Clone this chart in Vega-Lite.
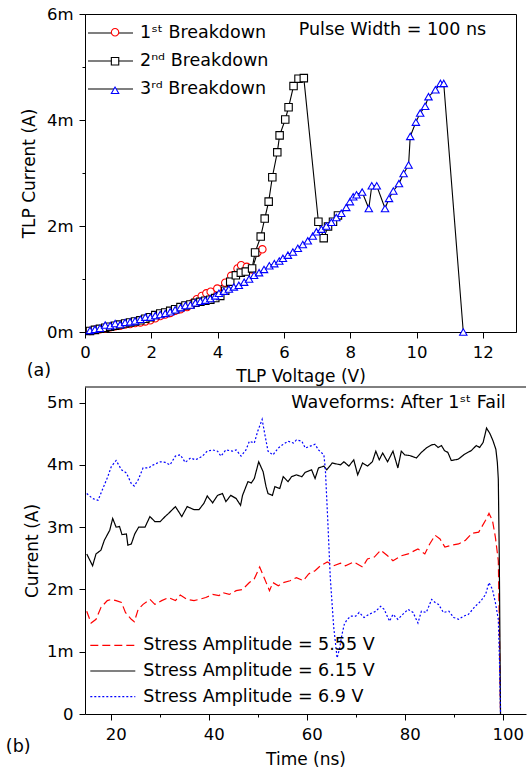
{
 "$schema": "https://vega.github.io/schema/vega-lite/v6.json",
 "background": "white",
 "padding": {"left": 5, "top": 5, "right": 0, "bottom": 0},
 "bounds": "flush",
 "spacing": 55,
 "resolve": {"scale": {"color": "independent", "stroke": "independent", "shape": "independent", "strokeDash": "independent"}, "legend": {"color": "independent", "stroke": "independent", "shape": "independent", "strokeDash": "independent"}},
 "config": {
  "font": "DejaVu Sans",
  "view": {"stroke": "black", "strokeWidth": 1},
  "axis": {"grid": false, "domainColor": "black", "tickColor": "black", "labelColor": "black", "titleColor": "black", "labelFont": "DejaVu Sans", "titleFont": "DejaVu Sans", "labelFontSize": 16.5, "titleFontSize": 17, "titleFontWeight": "normal", "labelPadding": 6, "domainWidth": 1, "tickWidth": 1, "labelFlush": false, "labelOverlap": false},
  "legend": {"labelFont": "DejaVu Sans", "labelFontSize": 17.5, "labelColor": "black", "padding": 0, "labelLimit": 400}
 },
 "datasets": {
  "a": [
   {"V":0.15,"I":0.02,"s":"1"},{"V":0.30,"I":0.04,"s":"1"},{"V":0.45,"I":0.05,"s":"1"},{"V":0.61,"I":0.07,"s":"1"},{"V":0.76,"I":0.09,"s":"1"},{"V":0.91,"I":0.11,"s":"1"},{"V":1.06,"I":0.12,"s":"1"},{"V":1.21,"I":0.14,"s":"1"},{"V":1.36,"I":0.15,"s":"1"},{"V":1.51,"I":0.17,"s":"1"},{"V":1.67,"I":0.18,"s":"1"},{"V":1.82,"I":0.20,"s":"1"},{"V":1.97,"I":0.22,"s":"1"},{"V":2.12,"I":0.26,"s":"1"},{"V":2.27,"I":0.30,"s":"1"},{"V":2.42,"I":0.33,"s":"1"},{"V":2.57,"I":0.36,"s":"1"},{"V":2.72,"I":0.40,"s":"1"},{"V":2.88,"I":0.43,"s":"1"},{"V":3.08,"I":0.47,"s":"1"},{"V":3.23,"I":0.54,"s":"1"},{"V":3.37,"I":0.62,"s":"1"},{"V":3.52,"I":0.68,"s":"1"},{"V":3.66,"I":0.73,"s":"1"},{"V":3.79,"I":0.76,"s":"1"},{"V":3.99,"I":0.82,"s":"1"},{"V":4.23,"I":0.93,"s":"1"},{"V":4.41,"I":1.06,"s":"1"},{"V":4.60,"I":1.20,"s":"1"},{"V":4.71,"I":1.26,"s":"1"},{"V":4.88,"I":1.23,"s":"1"},{"V":5.04,"I":1.18,"s":"1"},{"V":5.20,"I":1.50,"s":"1"},{"V":5.35,"I":1.56,"s":"1"},
   {"V":0.15,"I":0.02,"s":"2"},{"V":0.30,"I":0.04,"s":"2"},{"V":0.45,"I":0.06,"s":"2"},{"V":0.61,"I":0.08,"s":"2"},{"V":0.76,"I":0.10,"s":"2"},{"V":0.91,"I":0.12,"s":"2"},{"V":1.06,"I":0.14,"s":"2"},{"V":1.21,"I":0.16,"s":"2"},{"V":1.36,"I":0.18,"s":"2"},{"V":1.51,"I":0.20,"s":"2"},{"V":1.67,"I":0.22,"s":"2"},{"V":1.82,"I":0.25,"s":"2"},{"V":1.97,"I":0.28,"s":"2"},{"V":2.12,"I":0.32,"s":"2"},{"V":2.27,"I":0.35,"s":"2"},{"V":2.42,"I":0.37,"s":"2"},{"V":2.57,"I":0.40,"s":"2"},{"V":2.72,"I":0.43,"s":"2"},{"V":2.88,"I":0.47,"s":"2"},{"V":3.03,"I":0.50,"s":"2"},{"V":3.18,"I":0.52,"s":"2"},{"V":3.33,"I":0.55,"s":"2"},{"V":3.48,"I":0.57,"s":"2"},{"V":3.63,"I":0.59,"s":"2"},{"V":3.78,"I":0.61,"s":"2"},{"V":3.93,"I":0.64,"s":"2"},{"V":4.08,"I":0.68,"s":"2"},{"V":4.23,"I":0.78,"s":"2"},{"V":4.38,"I":0.95,"s":"2"},{"V":4.55,"I":1.07,"s":"2"},{"V":4.70,"I":1.12,"s":"2"},{"V":4.85,"I":1.14,"s":"2"},{"V":5.04,"I":1.20,"s":"2"},{"V":5.13,"I":1.50,"s":"2"},{"V":5.30,"I":1.80,"s":"2"},{"V":5.42,"I":2.14,"s":"2"},{"V":5.54,"I":2.46,"s":"2"},{"V":5.65,"I":2.92,"s":"2"},{"V":5.80,"I":3.39,"s":"2"},{"V":5.87,"I":3.71,"s":"2"},{"V":6.04,"I":4.01,"s":"2"},{"V":6.14,"I":4.24,"s":"2"},{"V":6.29,"I":4.64,"s":"2"},{"V":6.44,"I":4.78,"s":"2"},{"V":6.60,"I":4.79,"s":"2"},{"V":7.04,"I":2.08,"s":"2"},{"V":7.20,"I":1.77,"s":"2"},{"V":7.33,"I":1.99,"s":"2"},{"V":7.48,"I":2.08,"s":"2"},{"V":7.63,"I":2.20,"s":"2"},
   {"V":0.15,"I":0.03,"s":"3"},{"V":0.30,"I":0.05,"s":"3"},{"V":0.45,"I":0.07,"s":"3"},{"V":0.61,"I":0.13,"s":"3"},{"V":0.76,"I":0.12,"s":"3"},{"V":0.91,"I":0.16,"s":"3"},{"V":1.06,"I":0.14,"s":"3"},{"V":1.21,"I":0.18,"s":"3"},{"V":1.36,"I":0.19,"s":"3"},{"V":1.51,"I":0.21,"s":"3"},{"V":1.67,"I":0.24,"s":"3"},{"V":1.82,"I":0.28,"s":"3"},{"V":1.97,"I":0.28,"s":"3"},{"V":2.12,"I":0.31,"s":"3"},{"V":2.27,"I":0.33,"s":"3"},{"V":2.42,"I":0.35,"s":"3"},{"V":2.57,"I":0.38,"s":"3"},{"V":2.72,"I":0.42,"s":"3"},{"V":2.88,"I":0.46,"s":"3"},{"V":3.03,"I":0.50,"s":"3"},{"V":3.18,"I":0.51,"s":"3"},{"V":3.33,"I":0.55,"s":"3"},{"V":3.48,"I":0.58,"s":"3"},{"V":3.63,"I":0.60,"s":"3"},{"V":3.78,"I":0.63,"s":"3"},{"V":3.93,"I":0.68,"s":"3"},{"V":4.04,"I":0.73,"s":"3"},{"V":4.19,"I":0.77,"s":"3"},{"V":4.34,"I":0.81,"s":"3"},{"V":4.49,"I":0.85,"s":"3"},{"V":4.64,"I":0.88,"s":"3"},{"V":4.80,"I":0.94,"s":"3"},{"V":4.95,"I":1.00,"s":"3"},{"V":5.10,"I":1.07,"s":"3"},{"V":5.25,"I":1.12,"s":"3"},{"V":5.40,"I":1.18,"s":"3"},{"V":5.56,"I":1.25,"s":"3"},{"V":5.71,"I":1.29,"s":"3"},{"V":5.86,"I":1.34,"s":"3"},{"V":5.97,"I":1.39,"s":"3"},{"V":6.12,"I":1.45,"s":"3"},{"V":6.27,"I":1.51,"s":"3"},{"V":6.42,"I":1.58,"s":"3"},{"V":6.57,"I":1.65,"s":"3"},{"V":6.72,"I":1.72,"s":"3"},{"V":6.87,"I":1.81,"s":"3"},{"V":6.98,"I":1.89,"s":"3"},{"V":7.13,"I":1.94,"s":"3"},{"V":7.28,"I":2.00,"s":"3"},{"V":7.43,"I":2.07,"s":"3"},{"V":7.58,"I":2.16,"s":"3"},{"V":7.73,"I":2.24,"s":"3"},{"V":7.88,"I":2.35,"s":"3"},{"V":7.99,"I":2.46,"s":"3"},{"V":8.09,"I":2.55,"s":"3"},{"V":8.19,"I":2.59,"s":"3"},{"V":8.36,"I":2.64,"s":"3"},{"V":8.56,"I":2.33,"s":"3"},{"V":8.65,"I":2.76,"s":"3"},{"V":8.80,"I":2.76,"s":"3"},{"V":9.05,"I":2.33,"s":"3"},{"V":9.17,"I":2.52,"s":"3"},{"V":9.30,"I":2.66,"s":"3"},{"V":9.47,"I":2.80,"s":"3"},{"V":9.61,"I":2.99,"s":"3"},{"V":9.76,"I":3.15,"s":"3"},{"V":9.81,"I":3.69,"s":"3"},{"V":9.98,"I":3.96,"s":"3"},{"V":10.11,"I":4.13,"s":"3"},{"V":10.26,"I":4.26,"s":"3"},{"V":10.36,"I":4.44,"s":"3"},{"V":10.57,"I":4.57,"s":"3"},{"V":10.72,"I":4.69,"s":"3"},{"V":10.82,"I":4.69,"s":"3"},{"V":11.41,"I":0.00,"s":"3"}
  ],
  "b": [
   {"t":15.1,"I":1.65,"s":"5.55"},{"t":16.0,"I":1.46,"s":"5.55"},{"t":17.0,"I":1.52,"s":"5.55"},{"t":18.0,"I":1.71,"s":"5.55"},{"t":19.3,"I":1.82,"s":"5.55"},{"t":20.1,"I":1.84,"s":"5.55"},{"t":21.1,"I":1.82,"s":"5.55"},{"t":22.2,"I":1.79,"s":"5.55"},{"t":23.0,"I":1.63,"s":"5.55"},{"t":24.2,"I":1.52,"s":"5.55"},{"t":24.8,"I":1.48,"s":"5.55"},{"t":25.6,"I":1.68,"s":"5.55"},{"t":26.6,"I":1.76,"s":"5.55"},{"t":28.0,"I":1.84,"s":"5.55"},{"t":29.0,"I":1.76,"s":"5.55"},{"t":30.4,"I":1.82,"s":"5.55"},{"t":31.8,"I":1.87,"s":"5.55"},{"t":33.2,"I":1.82,"s":"5.55"},{"t":34.2,"I":1.91,"s":"5.55"},{"t":35.6,"I":1.84,"s":"5.55"},{"t":37.0,"I":1.82,"s":"5.55"},{"t":38.0,"I":1.84,"s":"5.55"},{"t":39.4,"I":1.87,"s":"5.55"},{"t":40.8,"I":1.92,"s":"5.55"},{"t":42.1,"I":1.90,"s":"5.55"},{"t":42.8,"I":1.95,"s":"5.55"},{"t":44.2,"I":1.92,"s":"5.55"},{"t":45.6,"I":1.98,"s":"5.55"},{"t":46.9,"I":2.00,"s":"5.55"},{"t":48.3,"I":2.11,"s":"5.55"},{"t":49.3,"I":2.17,"s":"5.55"},{"t":50.4,"I":2.36,"s":"5.55"},{"t":51.4,"I":2.17,"s":"5.55"},{"t":52.4,"I":1.98,"s":"5.55"},{"t":53.1,"I":2.11,"s":"5.55"},{"t":54.2,"I":2.06,"s":"5.55"},{"t":55.2,"I":2.11,"s":"5.55"},{"t":56.6,"I":2.14,"s":"5.55"},{"t":57.9,"I":2.19,"s":"5.55"},{"t":59.3,"I":2.14,"s":"5.55"},{"t":60.4,"I":2.25,"s":"5.55"},{"t":61.7,"I":2.30,"s":"5.55"},{"t":62.8,"I":2.38,"s":"5.55"},{"t":64.2,"I":2.44,"s":"5.55"},{"t":65.5,"I":2.38,"s":"5.55"},{"t":66.9,"I":2.42,"s":"5.55"},{"t":67.9,"I":2.38,"s":"5.55"},{"t":69.6,"I":2.44,"s":"5.55"},{"t":71.4,"I":2.36,"s":"5.55"},{"t":72.4,"I":2.49,"s":"5.55"},{"t":73.8,"I":2.52,"s":"5.55"},{"t":75.1,"I":2.63,"s":"5.55"},{"t":76.5,"I":2.54,"s":"5.55"},{"t":77.6,"I":2.46,"s":"5.55"},{"t":79.3,"I":2.54,"s":"5.55"},{"t":80.7,"I":2.57,"s":"5.55"},{"t":82.7,"I":2.65,"s":"5.55"},{"t":84.1,"I":2.57,"s":"5.55"},{"t":85.1,"I":2.73,"s":"5.55"},{"t":86.2,"I":2.87,"s":"5.55"},{"t":87.2,"I":2.81,"s":"5.55"},{"t":88.2,"I":2.68,"s":"5.55"},{"t":89.6,"I":2.71,"s":"5.55"},{"t":91.0,"I":2.73,"s":"5.55"},{"t":92.4,"I":2.79,"s":"5.55"},{"t":93.7,"I":2.90,"s":"5.55"},{"t":95.1,"I":2.92,"s":"5.55"},{"t":96.5,"I":3.11,"s":"5.55"},{"t":97.2,"I":3.22,"s":"5.55"},{"t":97.9,"I":3.11,"s":"5.55"},{"t":98.5,"I":2.84,"s":"5.55"},{"t":99.1,"I":2.46,"s":"5.55"},{"t":99.3,"I":1.50,"s":"5.55"},{"t":99.45,"I":0.60,"s":"5.55"},{"t":99.55,"I":0.00,"s":"5.55"},
   {"t":15.1,"I":2.57,"s":"6.15"},{"t":16.3,"I":2.38,"s":"6.15"},{"t":17.0,"I":2.57,"s":"6.15"},{"t":18.0,"I":2.63,"s":"6.15"},{"t":18.7,"I":2.79,"s":"6.15"},{"t":19.8,"I":2.95,"s":"6.15"},{"t":20.4,"I":3.14,"s":"6.15"},{"t":21.1,"I":3.00,"s":"6.15"},{"t":21.8,"I":3.01,"s":"6.15"},{"t":22.3,"I":2.88,"s":"6.15"},{"t":23.2,"I":2.89,"s":"6.15"},{"t":23.5,"I":2.71,"s":"6.15"},{"t":24.2,"I":2.73,"s":"6.15"},{"t":24.9,"I":2.89,"s":"6.15"},{"t":25.7,"I":3.00,"s":"6.15"},{"t":27.0,"I":3.00,"s":"6.15"},{"t":28.0,"I":3.17,"s":"6.15"},{"t":29.0,"I":3.09,"s":"6.15"},{"t":30.1,"I":3.09,"s":"6.15"},{"t":31.1,"I":3.17,"s":"6.15"},{"t":31.8,"I":3.22,"s":"6.15"},{"t":33.2,"I":3.33,"s":"6.15"},{"t":34.5,"I":3.17,"s":"6.15"},{"t":35.6,"I":3.33,"s":"6.15"},{"t":37.0,"I":3.28,"s":"6.15"},{"t":38.0,"I":3.28,"s":"6.15"},{"t":39.0,"I":3.38,"s":"6.15"},{"t":39.7,"I":3.50,"s":"6.15"},{"t":40.8,"I":3.39,"s":"6.15"},{"t":41.8,"I":3.51,"s":"6.15"},{"t":42.8,"I":3.54,"s":"6.15"},{"t":43.5,"I":3.41,"s":"6.15"},{"t":44.5,"I":3.51,"s":"6.15"},{"t":45.6,"I":3.46,"s":"6.15"},{"t":46.5,"I":3.35,"s":"6.15"},{"t":46.9,"I":3.51,"s":"6.15"},{"t":48.0,"I":3.73,"s":"6.15"},{"t":48.7,"I":3.71,"s":"6.15"},{"t":49.3,"I":3.78,"s":"6.15"},{"t":50.2,"I":4.05,"s":"6.15"},{"t":51.1,"I":3.89,"s":"6.15"},{"t":51.7,"I":3.65,"s":"6.15"},{"t":52.1,"I":3.54,"s":"6.15"},{"t":53.0,"I":3.51,"s":"6.15"},{"t":53.5,"I":3.65,"s":"6.15"},{"t":54.5,"I":3.62,"s":"6.15"},{"t":55.2,"I":3.81,"s":"6.15"},{"t":56.2,"I":3.73,"s":"6.15"},{"t":56.9,"I":3.81,"s":"6.15"},{"t":57.9,"I":3.84,"s":"6.15"},{"t":59.0,"I":3.81,"s":"6.15"},{"t":59.7,"I":3.88,"s":"6.15"},{"t":61.0,"I":3.92,"s":"6.15"},{"t":61.7,"I":3.78,"s":"6.15"},{"t":62.4,"I":3.95,"s":"6.15"},{"t":63.5,"I":3.98,"s":"6.15"},{"t":64.1,"I":3.92,"s":"6.15"},{"t":65.2,"I":4.03,"s":"6.15"},{"t":66.9,"I":4.00,"s":"6.15"},{"t":67.6,"I":4.05,"s":"6.15"},{"t":68.6,"I":3.98,"s":"6.15"},{"t":69.6,"I":4.08,"s":"6.15"},{"t":70.4,"I":3.84,"s":"6.15"},{"t":71.4,"I":4.03,"s":"6.15"},{"t":72.4,"I":3.98,"s":"6.15"},{"t":73.4,"I":4.05,"s":"6.15"},{"t":74.1,"I":4.22,"s":"6.15"},{"t":74.8,"I":4.08,"s":"6.15"},{"t":75.5,"I":4.19,"s":"6.15"},{"t":76.5,"I":4.05,"s":"6.15"},{"t":77.6,"I":4.22,"s":"6.15"},{"t":78.6,"I":3.95,"s":"6.15"},{"t":79.3,"I":4.22,"s":"6.15"},{"t":80.0,"I":4.16,"s":"6.15"},{"t":81.0,"I":4.15,"s":"6.15"},{"t":82.4,"I":4.11,"s":"6.15"},{"t":83.4,"I":4.20,"s":"6.15"},{"t":84.4,"I":4.27,"s":"6.15"},{"t":85.5,"I":4.32,"s":"6.15"},{"t":86.1,"I":4.33,"s":"6.15"},{"t":86.8,"I":4.28,"s":"6.15"},{"t":87.5,"I":4.31,"s":"6.15"},{"t":88.1,"I":4.23,"s":"6.15"},{"t":88.8,"I":4.20,"s":"6.15"},{"t":89.5,"I":4.07,"s":"6.15"},{"t":90.9,"I":4.09,"s":"6.15"},{"t":92.2,"I":4.17,"s":"6.15"},{"t":93.6,"I":4.23,"s":"6.15"},{"t":94.6,"I":4.31,"s":"6.15"},{"t":95.3,"I":4.28,"s":"6.15"},{"t":96.0,"I":4.36,"s":"6.15"},{"t":96.7,"I":4.59,"s":"6.15"},{"t":97.4,"I":4.50,"s":"6.15"},{"t":98.0,"I":4.39,"s":"6.15"},{"t":98.6,"I":4.25,"s":"6.15"},{"t":98.9,"I":4.04,"s":"6.15"},{"t":99.1,"I":3.77,"s":"6.15"},{"t":99.3,"I":2.50,"s":"6.15"},{"t":99.45,"I":1.00,"s":"6.15"},{"t":99.55,"I":0.00,"s":"6.15"},
   {"t":15.1,"I":3.54,"s":"6.9"},{"t":16.3,"I":3.46,"s":"6.9"},{"t":17.4,"I":3.43,"s":"6.9"},{"t":18.4,"I":3.62,"s":"6.9"},{"t":19.4,"I":3.81,"s":"6.9"},{"t":20.1,"I":3.97,"s":"6.9"},{"t":21.1,"I":4.07,"s":"6.9"},{"t":22.2,"I":3.92,"s":"6.9"},{"t":23.2,"I":3.87,"s":"6.9"},{"t":24.2,"I":3.70,"s":"6.9"},{"t":24.8,"I":3.66,"s":"6.9"},{"t":25.6,"I":3.76,"s":"6.9"},{"t":26.6,"I":3.95,"s":"6.9"},{"t":27.7,"I":3.95,"s":"6.9"},{"t":28.7,"I":4.00,"s":"6.9"},{"t":30.1,"I":4.05,"s":"6.9"},{"t":31.1,"I":4.04,"s":"6.9"},{"t":32.1,"I":4.00,"s":"6.9"},{"t":33.2,"I":4.14,"s":"6.9"},{"t":34.2,"I":4.16,"s":"6.9"},{"t":35.2,"I":4.04,"s":"6.9"},{"t":36.3,"I":4.11,"s":"6.9"},{"t":37.3,"I":4.08,"s":"6.9"},{"t":38.7,"I":4.14,"s":"6.9"},{"t":39.7,"I":4.22,"s":"6.9"},{"t":40.8,"I":4.24,"s":"6.9"},{"t":41.8,"I":4.22,"s":"6.9"},{"t":42.5,"I":4.14,"s":"6.9"},{"t":43.5,"I":4.24,"s":"6.9"},{"t":44.9,"I":4.22,"s":"6.9"},{"t":45.6,"I":4.24,"s":"6.9"},{"t":46.6,"I":4.14,"s":"6.9"},{"t":47.6,"I":4.24,"s":"6.9"},{"t":48.3,"I":4.38,"s":"6.9"},{"t":49.3,"I":4.35,"s":"6.9"},{"t":50.0,"I":4.54,"s":"6.9"},{"t":50.9,"I":4.73,"s":"6.9"},{"t":51.4,"I":4.51,"s":"6.9"},{"t":52.1,"I":4.22,"s":"6.9"},{"t":53.1,"I":4.16,"s":"6.9"},{"t":54.2,"I":4.27,"s":"6.9"},{"t":55.2,"I":4.33,"s":"6.9"},{"t":56.2,"I":4.38,"s":"6.9"},{"t":57.3,"I":4.35,"s":"6.9"},{"t":57.9,"I":4.40,"s":"6.9"},{"t":59.0,"I":4.38,"s":"6.9"},{"t":59.7,"I":4.27,"s":"6.9"},{"t":60.7,"I":4.30,"s":"6.9"},{"t":61.7,"I":4.33,"s":"6.9"},{"t":62.4,"I":4.24,"s":"6.9"},{"t":63.5,"I":4.16,"s":"6.9"},{"t":63.8,"I":3.93,"s":"6.9"},{"t":64.3,"I":3.10,"s":"6.9"},{"t":64.8,"I":2.20,"s":"6.9"},{"t":65.5,"I":1.40,"s":"6.9"},{"t":66.2,"I":0.90,"s":"6.9"},{"t":66.7,"I":1.05,"s":"6.9"},{"t":67.2,"I":1.28,"s":"6.9"},{"t":67.7,"I":1.45,"s":"6.9"},{"t":68.3,"I":1.52,"s":"6.9"},{"t":69.0,"I":1.57,"s":"6.9"},{"t":70.0,"I":1.57,"s":"6.9"},{"t":70.7,"I":1.63,"s":"6.9"},{"t":71.7,"I":1.55,"s":"6.9"},{"t":72.7,"I":1.60,"s":"6.9"},{"t":74.1,"I":1.65,"s":"6.9"},{"t":75.1,"I":1.73,"s":"6.9"},{"t":75.8,"I":1.68,"s":"6.9"},{"t":76.9,"I":1.49,"s":"6.9"},{"t":77.6,"I":1.60,"s":"6.9"},{"t":78.6,"I":1.52,"s":"6.9"},{"t":79.6,"I":1.60,"s":"6.9"},{"t":80.7,"I":1.68,"s":"6.9"},{"t":81.7,"I":1.63,"s":"6.9"},{"t":82.7,"I":1.46,"s":"6.9"},{"t":83.4,"I":1.65,"s":"6.9"},{"t":84.4,"I":1.63,"s":"6.9"},{"t":85.5,"I":1.84,"s":"6.9"},{"t":86.2,"I":1.79,"s":"6.9"},{"t":86.9,"I":1.76,"s":"6.9"},{"t":87.9,"I":1.63,"s":"6.9"},{"t":89.0,"I":1.65,"s":"6.9"},{"t":90.0,"I":1.55,"s":"6.9"},{"t":91.0,"I":1.52,"s":"6.9"},{"t":92.0,"I":1.57,"s":"6.9"},{"t":93.0,"I":1.60,"s":"6.9"},{"t":94.4,"I":1.73,"s":"6.9"},{"t":95.5,"I":1.81,"s":"6.9"},{"t":96.5,"I":1.92,"s":"6.9"},{"t":97.2,"I":2.11,"s":"6.9"},{"t":97.9,"I":2.00,"s":"6.9"},{"t":98.5,"I":1.79,"s":"6.9"},{"t":99.1,"I":1.52,"s":"6.9"},{"t":99.35,"I":0.80,"s":"6.9"},{"t":99.55,"I":0.00,"s":"6.9"}
  ]
 },
 "vconcat": [
  {
   "width": 431,
   "height": 318,
   "layer": [
    {
     "data": {"name": "a"},
     "mark": {"type": "line", "strokeWidth": 1.1},
     "encoding": {
      "x": {"field": "V", "type": "quantitative", "scale": {"domain": [0, 13], "nice": false, "zero": false},
            "axis": {"title": "TLP Voltage (V)", "values": [0,1,2,3,4,5,6,7,8,9,10,11,12,13], "labelExpr": "datum.value % 2 === 0 ? datum.label : ''", "tickSize": {"condition": {"test": "datum.value % 2 !== 0", "value": 3}, "value": 6}, "titlePadding": 8}},
      "y": {"field": "I", "type": "quantitative", "scale": {"domain": [0, 6], "nice": false},
            "axis": {"title": "TLP Current (A)", "values": [0,1,2,3,4,5,6], "labelExpr": "datum.value % 2 === 0 ? datum.value + 'm' : ''", "tickSize": {"condition": {"test": "datum.value % 2 !== 0", "value": 3}, "value": 6}, "titlePadding": 8}},
      "color": {"field": "s", "type": "nominal", "scale": {"domain": ["1", "2", "3"], "range": ["black", "black", "black"]},
                "legend": {"orient": "none", "legendX": 16, "legendY": 9.5, "title": null, "symbolType": "M-2.647,0H2.647", "symbolSize": 289, "symbolStrokeWidth": 1.1, "symbolStrokeColor": "black", "labelOffset": 20, "rowPadding": 10, "zindex": 0,
                           "labelExpr": "datum.label === '1' ? '1ˢᵗ Breakdown' : datum.label === '2' ? '2ⁿᵈ Breakdown' : '3ʳᵈ Breakdown'"}}
     }
    },
    {
     "data": {"name": "a"},
     "mark": {"type": "point", "filled": false, "fill": "white", "size": 55, "strokeWidth": 1.1, "opacity": 1},
     "encoding": {
      "x": {"field": "V", "type": "quantitative"},
      "y": {"field": "I", "type": "quantitative"},
      "stroke": {"field": "s", "type": "nominal", "scale": {"range": ["#ff0000", "#000000", "#0000ff"]},
                 "legend": {"orient": "none", "legendX": 21.3, "legendY": 9.5, "title": null, "symbolSize": 55, "symbolStrokeWidth": 1.1, "symbolFillColor": "white", "labelOffset": 2, "labelOpacity": 0, "labelExpr": "'.'", "rowPadding": 10, "zindex": 1}},
      "shape": {"field": "s", "type": "nominal", "scale": {"range": ["circle", "square", "triangle-up"]}}
     }
    },
    {
     "data": {"values": [{}]},
     "mark": {"type": "text", "text": "Pulse Width = 100 ns", "align": "right", "baseline": "middle", "fontSize": 17.5, "color": "black"},
     "encoding": {"x": {"datum": 12.1}, "y": {"datum": 5.69}}
    },
    {
     "data": {"values": [{}]},
     "mark": {"type": "text", "text": "(a)", "align": "center", "baseline": "middle", "fontSize": 17.5, "color": "black"},
     "encoding": {"x": {"datum": -1.39}, "y": {"datum": -0.73}}
    }
   ]
  },
  {
   "width": 441,
   "height": 327,
   "view": {"stroke": null},
   "layer": [
    {
     "data": {"name": "b"},
     "mark": {"type": "line", "strokeWidth": 1.2},
     "encoding": {
      "x": {"field": "t", "type": "quantitative", "scale": {"domain": [14.75, 104.75], "nice": false, "zero": false},
            "axis": {"title": "Time (ns)", "values": [20,30,40,50,60,70,80,90,100], "labelExpr": "datum.value % 20 === 0 ? datum.label : ''", "tickSize": {"condition": {"test": "datum.value % 20 !== 0", "value": 3}, "value": 6}, "labelOffset": 5, "titlePadding": 9}},
      "y": {"field": "I", "type": "quantitative", "scale": {"domain": [0, 5.25], "nice": false},
            "axis": {"title": "Current (A)", "values": [0,0.5,1,1.5,2,2.5,3,3.5,4,4.5,5], "labelExpr": "datum.value === 0 ? '0' : (datum.value % 1 === 0 ? datum.value + 'm' : '')", "tickSize": {"condition": {"test": "datum.value % 1 !== 0", "value": 3}, "value": 6}, "titlePadding": 5}},
      "color": {"field": "s", "type": "nominal", "scale": {"domain": ["5.55", "6.15", "6.9"], "range": ["#ff0000", "#000000", "#0000ff"]},
                "legend": {"orient": "none", "legendX": 18.3, "legendY": 248.8, "title": null, "symbolType": "M-2.647,0H2.647", "symbolSize": 289, "symbolStrokeWidth": 1.2, "labelOffset": 21, "rowPadding": 7.7, "labelLimit": 400,
                           "labelExpr": "'Stress Amplitude = ' + datum.label + ' V'"}},
      "strokeDash": {"field": "s", "type": "nominal", "scale": {"domain": ["5.55", "6.15", "6.9"], "range": [[8, 4], [1, 0], [2, 2]]}}
     }
    },
    {
     "data": {"values": [{}]},
     "mark": {"type": "rule", "color": "black", "strokeWidth": 1},
     "encoding": {"x": {"datum": 14.75}, "x2": {"datum": 104.75}, "y": {"datum": 5.25}}
    },
    {
     "data": {"values": [{}]},
     "mark": {"type": "text", "text": "Waveforms: After 1ˢᵗ Fail", "align": "right", "baseline": "middle", "fontSize": 17.5, "color": "black"},
     "encoding": {"x": {"datum": 100.6}, "y": {"datum": 5.0}}
    },
    {
     "data": {"values": [{}]},
     "mark": {"type": "text", "text": "(b)", "align": "center", "baseline": "middle", "fontSize": 17.5, "color": "black"},
     "encoding": {"x": {"datum": 1.12}, "y": {"datum": -0.535}}
    }
   ]
  }
 ]
}
